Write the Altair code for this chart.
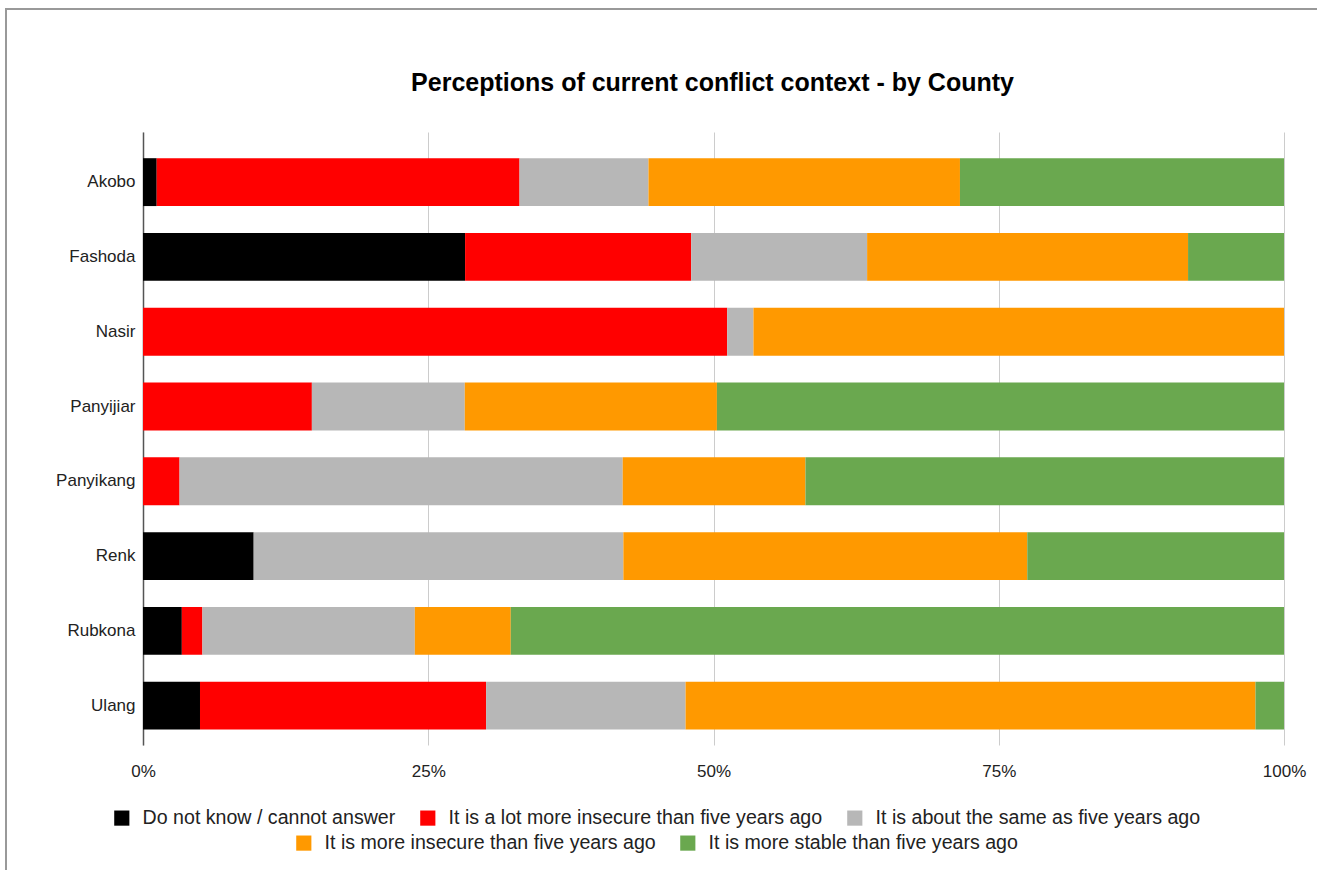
import json
import altair as alt
import pandas as pd

title_text = "Perceptions of current conflict context - by County"

counties = ["Akobo", "Fashoda", "Nasir", "Panyijiar", "Panyikang", "Renk", "Rubkona", "Ulang"]

categories = [
    "Do not know / cannot answer",
    "It is a lot more insecure than five years ago",
    "It is about the same as five years ago",
    "It is more insecure than five years ago",
    "It is more stable than five years ago",
]
colors = ["#000000", "#ff0000", "#b7b7b7", "#ff9900", "#6aa84f"]

dont_know = [1.2, 28.2, 0.0, 0.0, 0.0, 9.7, 3.4, 5.0]
lot_more_insecure = [31.8, 19.8, 51.2, 14.8, 3.2, 0.0, 1.8, 25.1]
about_same = [11.3, 15.4, 2.3, 13.4, 38.8, 32.4, 18.6, 17.5]
more_insecure = [27.3, 28.1, 46.5, 22.1, 16.0, 35.4, 8.4, 50.0]
more_stable = [28.4, 8.4, 0.0, 49.7, 41.9, 22.5, 67.7, 2.5]

series = [dont_know, lot_more_insecure, about_same, more_insecure, more_stable]

rows = []
for cat, vals in zip(categories, series):
    for county, v in zip(counties, vals):
        rows.append({"county": county, "category": cat, "pct": v})
df = pd.DataFrame(rows)

W, H = 1141, 613
FONT = "Liberation Sans"

base = (
    alt.Chart(df)
    .transform_calculate(order=f"indexof({json.dumps(categories)}, datum.category)")
    .transform_stack(
        stack="pct",
        groupby=["county"],
        as_=["x0", "x1"],
        offset="normalize",
        sort=[alt.SortField("order", order="ascending")],
    )
)

yenc = alt.Y(
    "county:N",
    sort=counties,
    title=None,
    scale=alt.Scale(paddingInner=0.36, paddingOuter=0.278, align=0.63),
    axis=alt.Axis(
        labelFontSize=17, labelColor="#222222", labelPadding=8, ticks=False,
        domain=True, domainColor="#555555", domainWidth=1.5, grid=False,
    ),
)
xenc = alt.X(
    "x0:Q",
    title=None,
    scale=alt.Scale(domain=[0, 1], nice=False),
    axis=alt.Axis(
        values=[0, 0.25, 0.5, 0.75, 1], format="%", labelFontSize=17,
        labelColor="#222222", labelPadding=18, ticks=False, domain=False,
        labelFlush=False, labelBound=False, labelOverlap=False,
        grid=True, gridColor="#cccccc", gridWidth=1,
    ),
)


def legend(x, y):
    return alt.Legend(
        title=None, orient="none", legendX=x, legendY=y, direction="horizontal",
        symbolType="square", symbolSize=230, symbolStrokeWidth=0,
        labelFontSize=19.6, labelColor="#222222", labelFont=FONT,
        labelOffset=11, columnPadding=22, labelLimit=600,
    )


barsA = base.transform_filter(
    alt.FieldOneOfPredicate(field="category", oneOf=categories[:3])
).mark_bar().encode(
    y=yenc,
    x=xenc,
    x2="x1:Q",
    color=alt.Color(
        "category:N",
        scale=alt.Scale(domain=categories[:3], range=colors[:3]),
        legend=legend(-31, 676),
    ),
)

barsB = base.transform_filter(
    alt.FieldOneOfPredicate(field="category", oneOf=categories[3:])
).mark_bar().encode(
    y=yenc,
    x=xenc,
    x2="x1:Q",
    color=alt.Color(
        "category:N",
        scale=alt.Scale(domain=categories[3:], range=colors[3:]),
        legend=legend(151, 701),
    ),
)

one = pd.DataFrame({"t": [title_text]})

frame = alt.Chart(one).mark_rect(fill=None, stroke="#999999", strokeWidth=2).encode(
    x=alt.value(-137), x2=alt.value(W + 200), y=alt.value(-123), y2=alt.value(H + 300)
)

title = alt.Chart(one).mark_text(
    font=FONT, fontSize=25, fontWeight="bold", color="#000000",
    align="center", baseline="middle",
).encode(text="t:N", x=alt.value(W / 2 - 1), y=alt.value(-49))

chart = (
    alt.layer(frame, barsA, barsB, title)
    .resolve_scale(color="independent")
    .properties(
        width=W, height=H,
        autosize=alt.AutoSizeParams(type="none"),
        padding={"left": 143, "top": 132, "right": 33, "bottom": 125},
    )
    .configure(font=FONT)
    .configure_view(stroke=None)
)

chart.save("out.html", embed_options={"renderer": "svg", "actions": False})
